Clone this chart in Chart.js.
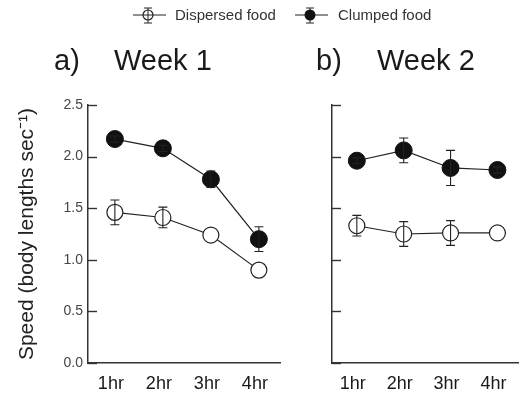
<!DOCTYPE html>
<html>
<head>
<meta charset="utf-8">
<script src="https://cdn.jsdelivr.net/npm/chart.js@4.4.0/dist/chart.umd.min.js"></script>
<style>
  html, body { margin: 0; padding: 0; background: #fff; }
  #wrap { position: relative; width: 528px; height: 395px; overflow: hidden;
          font-family: "Liberation Sans", Arial, sans-serif; color: #222; }
  canvas { position: absolute; top: 0; }
  #c1 { left: 0; }
  #c2 { left: 290px; }
  .title { position: absolute; top: 43px; font-size: 29px; line-height: 34px; white-space: pre; color: #1a1a1a; }
  .legend { position: absolute; top: 6px; font-size: 15px; line-height: 18px; color: #333; white-space: nowrap; }
  .legend svg { position: absolute; top: 0; }
  .legend span { position: absolute; top: 0; }
</style>
</head>
<body>
<div id="wrap">
  <canvas id="c1" width="290" height="395"></canvas>
  <canvas id="c2" width="238" height="395"></canvas>

  <div class="title" style="left:54px">a)</div>
  <div class="title" style="left:114px">Week 1</div>
  <div class="title" style="left:316px">b)</div>
  <div class="title" style="left:377px">Week 2</div>

  <div class="legend" style="left:133px;width:160px;height:24px">
    <svg width="34" height="22" viewBox="0 0 34 22">
      <line x1="0" y1="9" x2="33" y2="9" stroke="#222" stroke-width="1.2"/>
      <line x1="15" y1="2" x2="15" y2="17" stroke="#222" stroke-width="1"/>
      <line x1="11" y1="2" x2="19" y2="2" stroke="#222" stroke-width="1"/>
      <line x1="11" y1="17" x2="19" y2="17" stroke="#222" stroke-width="1"/>
      <circle cx="15" cy="9" r="5" fill="none" stroke="#222" stroke-width="1.2"/>
    </svg>
    <span style="left:42px">Dispersed food</span>
  </div>
  <div class="legend" style="left:295px;width:160px;height:24px">
    <svg width="34" height="22" viewBox="0 0 34 22">
      <line x1="0" y1="9" x2="33" y2="9" stroke="#222" stroke-width="1.2"/>
      <line x1="15" y1="2" x2="15" y2="17" stroke="#222" stroke-width="1"/>
      <line x1="11" y1="2" x2="19" y2="2" stroke="#222" stroke-width="1"/>
      <line x1="11" y1="17" x2="19" y2="17" stroke="#222" stroke-width="1"/>
      <circle cx="15" cy="9" r="5.5" fill="#111"/>
    </svg>
    <span style="left:43px">Clumped food</span>
  </div>
</div>

<script>
// ─── Data ─────────────────────────────────────────────────
const hours = ['1hr', '2hr', '3hr', '4hr'];
const hourPos = [1, 2, 3, 4];
const yTicks = [0, 0.5, 1.0, 1.5, 2.0, 2.5];

const week1Dispersed    = [1.46, 1.41, 1.24, 0.90];
const week1DispersedErr = [0.12, 0.10, 0, 0];
const week1Clumped      = [2.17, 2.08, 1.78, 1.20];
const week1ClumpedErr   = [0.03, 0.03, 0.08, 0.12];

const week2Dispersed    = [1.33, 1.25, 1.26, 1.26];
const week2DispersedErr = [0.10, 0.12, 0.12, 0];
const week2Clumped      = [1.96, 2.06, 1.89, 1.87];
const week2ClumpedErr   = [0.03, 0.12, 0.17, 0.03];

// ─── Error bars + inward tick marks ───────────────────────
const errorBarPlugin = {
  id: 'errorBars',
  afterDatasetsDraw(chart) {
    const { ctx, scales: { x, y } } = chart;
    ctx.save();
    ctx.strokeStyle = '#222';
    ctx.lineWidth = 1.1;
    chart.data.datasets.forEach(ds => {
      ds.data.forEach((pt, i) => {
        const e = ds.errors[i];
        if (!e) return;
        const px = x.getPixelForValue(pt.x);
        const top = y.getPixelForValue(pt.y + e);
        const bot = y.getPixelForValue(pt.y - e);
        ctx.beginPath();
        ctx.moveTo(px, top); ctx.lineTo(px, bot);
        ctx.moveTo(px - 4.5, top); ctx.lineTo(px + 4.5, top);
        ctx.moveTo(px - 4.5, bot); ctx.lineTo(px + 4.5, bot);
        ctx.stroke();
      });
    });
    ctx.restore();
  },
  afterDraw(chart) {
    const { ctx, scales: { y } } = chart;
    ctx.save();
    ctx.strokeStyle = '#333';
    ctx.lineWidth = 1.4;
    y.ticks.forEach(t => {
      const py = Math.round(y.getPixelForValue(t.value)) + 0.5;
      ctx.beginPath();
      ctx.moveTo(y.right, py);
      ctx.lineTo(y.right + 9, py);
      ctx.stroke();
    });
    ctx.restore();
  }
};

// ─── Helpers ──────────────────────────────────────────────
function points(vals) {
  return vals.map((v, i) => ({ x: hourPos[i], y: v }));
}

function makeDatasets(dispersed, dispErr, clumped, clumpErr) {
  return [
    {
      label: 'Dispersed food',
      data: points(dispersed),
      errors: dispErr,
      borderColor: '#222', borderWidth: 1.2,
      pointBackgroundColor: '#fff', pointBorderColor: '#222',
      pointBorderWidth: 1.2, pointRadius: 8,
      tension: 0,
    },
    {
      label: 'Clumped food',
      data: points(clumped),
      errors: clumpErr,
      borderColor: '#222', borderWidth: 1.2,
      pointBackgroundColor: '#111', pointBorderColor: '#111',
      pointBorderWidth: 1, pointRadius: 8.5,
      tension: 0,
    },
  ];
}

function renderPanel(id, datasets, opts) {
  new Chart(document.getElementById(id), {
    type: 'line',
    data: { datasets },
    plugins: [errorBarPlugin],
    options: {
      responsive: false,
      animation: false,
      events: [],
      layout: { padding: { top: 105, right: opts.padRight, bottom: 0, left: 0 } },
      plugins: { legend: { display: false }, tooltip: { enabled: false } },
      scales: {
        x: {
          type: 'linear',
          min: opts.xMin, max: opts.xMax,
          afterBuildTicks: s => { s.ticks = hourPos.map(v => ({ value: v })); },
          afterFit: s => { s.height = 32; },
          grid: { display: false, drawTicks: false },
          border: { display: true, color: '#333', width: 1.5 },
          ticks: {
            callback: v => hours[hourPos.indexOf(v)],
            font: { family: 'Liberation Sans', size: 18 },
            color: '#1a1a1a',
            padding: 10,
            labelOffset: -4,
            maxRotation: 0,
          },
        },
        y: {
          min: 0, max: 2.5,
          afterBuildTicks: s => { s.ticks = yTicks.map(v => ({ value: v })); },
          afterFit: s => { s.width = opts.yWidth; },
          grid: { display: false, drawTicks: false },
          border: { display: true, color: '#333', width: 1.5 },
          ticks: {
            callback: v => v.toFixed(1),
            font: { family: 'Liberation Sans', size: 14 },
            color: opts.showY ? '#444' : 'rgba(0,0,0,0)',
            padding: 5,
          },
          title: {
            display: opts.showY,
            text: 'Speed (body lengths sec\u207B\u00B9)',
            font: { family: 'Liberation Sans', size: 21 },
            color: '#222',
            padding: { top: 15, bottom: 0 },
          },
        },
      },
    },
  });
}

document.addEventListener('DOMContentLoaded', () => {
  renderPanel('c1',
    makeDatasets(week1Dispersed, week1DispersedErr, week1Clumped, week1ClumpedErr),
    { xMin: 0.44, xMax: 4.44, yWidth: 88, padRight: 10, showY: true });
  renderPanel('c2',
    makeDatasets(week2Dispersed, week2DispersedErr, week2Clumped, week2ClumpedErr),
    { xMin: 0.47, xMax: 4.45, yWidth: 42, padRight: 1, showY: false });
});
</script>
</body>
</html>
